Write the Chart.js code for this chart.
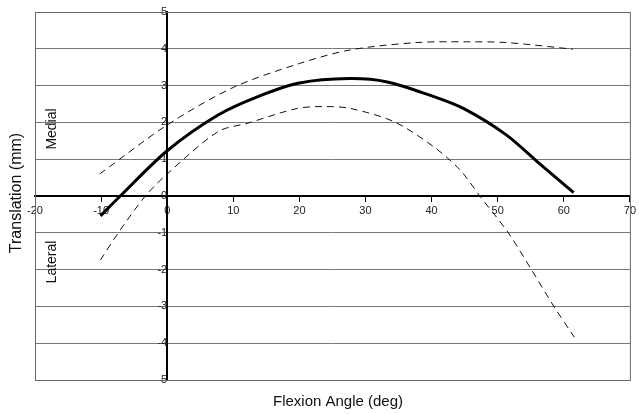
<!DOCTYPE html>
<html>
<head>
<meta charset="utf-8">
<script src="https://cdn.jsdelivr.net/npm/chart.js@4/dist/chart.umd.min.js"></script>
<style>
  html, body { margin: 0; padding: 0; background: #fff; }
  #wrap { width: 639px; height: 414px; }
</style>
</head>
<body>
<div id="wrap"><canvas id="kneeChart" width="639" height="414"></canvas></div>
<script>
// mean curve (thick solid)
const meanAngles = [-10.1, -7.1, 0, 7.7, 14, 20, 27.5, 33.3, 39.7, 44.8, 51.3, 56.5, 61.5];
const meanValues = [-0.54, 0, 1.23, 2.2, 2.72, 3.07, 3.19, 3.1, 2.74, 2.38, 1.66, 0.85, 0.09];

// upper bound (dashed)
const upperAngles = [-10.2, 0, 10, 20, 27.7, 37.8, 45.3, 51.3, 61.4];
const upperValues = [0.6, 1.93, 2.95, 3.6, 3.97, 4.17, 4.19, 4.17, 3.99];

// lower bound (dashed)
const lowerAngles = [-10.1, -7.4, -3.3, 0, 7.7, 12.2, 19.7, 24, 27.7, 34.3, 40.3, 44.3, 47.3, 51.6, 55.1, 58.5, 61.6];
const lowerValues = [-1.74, -1, 0, 0.6, 1.75, 1.98, 2.38, 2.43, 2.38, 2.02, 1.34, 0.71, 0, -1, -2, -3, -3.84];

const xTicks = [-20, -10, 0, 10, 20, 30, 40, 50, 60, 70];
const yTicks = [-5, -4, -3, -2, -1, 0, 1, 2, 3, 4, 5];

const toPoints = (xs, ys) => xs.map((x, i) => ({ x: x, y: ys[i] }));

const frameAndLabels = {
  id: "frameAndLabels",
  beforeDatasetsDraw(chart) {
    const { ctx, chartArea: a } = chart;
    ctx.save();
    ctx.strokeStyle = "#666";
    ctx.lineWidth = 1;
    ctx.strokeRect(a.left + 0.5, a.top + 0.5, a.right - a.left, a.bottom - a.top);
    ctx.restore();
  },
  afterDraw(chart) {
    const ctx = chart.ctx;
    ctx.save();
    ctx.fillStyle = "#111";
    ctx.textAlign = "center";
    ctx.textBaseline = "middle";
    ctx.font = "15px 'Liberation Sans', Arial, sans-serif";
    ctx.fillText("Flexion Angle (deg)", 338, 402);

    const vertical = (text, x, y) => {
      ctx.save();
      ctx.translate(x, y);
      ctx.rotate(-Math.PI / 2);
      ctx.fillText(text, 0, 0);
      ctx.restore();
    };
    ctx.font = "16px 'Liberation Sans', Arial, sans-serif";
    vertical("Translation (mm)", 17, 193);
    ctx.font = "14px 'Liberation Sans', Arial, sans-serif";
    vertical("Medial", 52, 129);
    vertical("Lateral", 52, 262);
    ctx.restore();
  }
};

new Chart(document.getElementById("kneeChart"), {
  type: "line",
  data: {
    datasets: [
      {
        label: "Mean",
        data: toPoints(meanAngles, meanValues),
        borderColor: "#000",
        borderWidth: 3,
        tension: 0.3,
        pointRadius: 0
      },
      {
        label: "Upper",
        data: toPoints(upperAngles, upperValues),
        borderColor: "#111",
        borderWidth: 1,
        borderDash: [7, 5],
        tension: 0.3,
        pointRadius: 0
      },
      {
        label: "Lower",
        data: toPoints(lowerAngles, lowerValues),
        borderColor: "#111",
        borderWidth: 1,
        borderDash: [7, 5],
        tension: 0.3,
        pointRadius: 0
      }
    ]
  },
  options: {
    responsive: false,
    animation: false,
    layout: { padding: { left: 35, right: 6, top: 12, bottom: 34 } },
    plugins: {
      legend: { display: false },
      tooltip: { enabled: false }
    },
    scales: {
      x: {
        type: "linear",
        position: { y: 0 },
        min: -20,
        max: 70,
        afterBuildTicks: (axis) => { axis.ticks = xTicks.map(v => ({ value: v })); },
        ticks: {
          color: "#222",
          font: { family: "'Liberation Sans', Arial, sans-serif", size: 11 },
          padding: 3,
          maxRotation: 0
        },
        grid: { drawOnChartArea: false, drawTicks: true, tickLength: 5, color: "#000" },
        border: { color: "#000", width: 2 }
      },
      y: {
        type: "linear",
        position: { x: 0 },
        min: -5,
        max: 5,
        afterBuildTicks: (axis) => { axis.ticks = yTicks.map(v => ({ value: v })); },
        ticks: {
          color: "#222",
          font: { family: "'Liberation Sans', Arial, sans-serif", size: 11 },
          padding: 3
        },
        grid: { color: "#777", lineWidth: 1, tickLength: 6 },
        border: { color: "#000", width: 2 }
      }
    }
  },
  plugins: [frameAndLabels]
});
</script>
</body>
</html>
